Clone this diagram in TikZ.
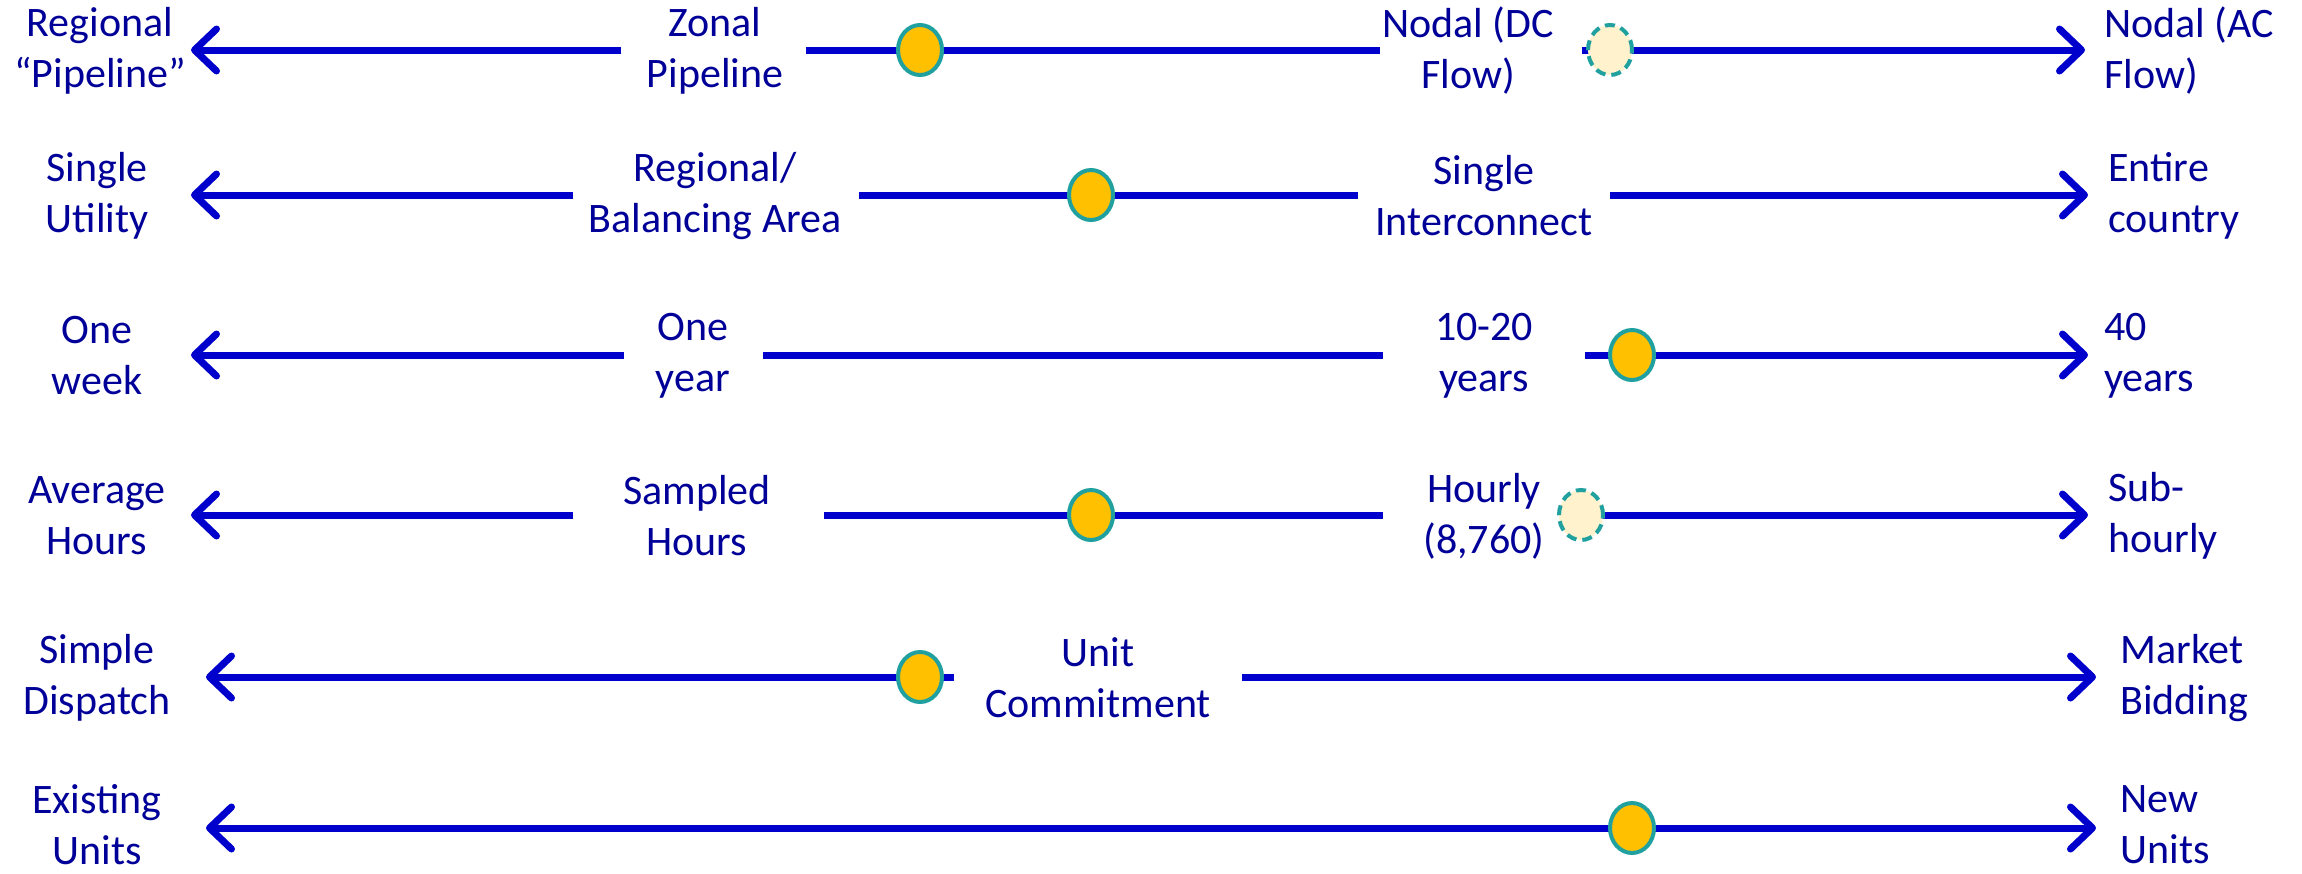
\documentclass[tikz,border=0pt]{standalone}
\usepackage{fontspec}
\setmainfont{Carlito}
\usetikzlibrary{arrows.meta,shapes.geometric}
\definecolor{linecol}{HTML}{0000CC}
\definecolor{txtcol}{HTML}{000099}
\definecolor{ringcol}{HTML}{21A0A0}
\definecolor{dotfill}{HTML}{FFC000}
\definecolor{ghostfill}{HTML}{FFF2CC}
\tikzset{
  lbl/.style={text=txtcol,font=\fontsize{21}{25.5}\selectfont,align=center,inner sep=0pt},
  rlbl/.style={lbl,align=left,anchor=west},
  bar/.style={draw=linecol,line width=3.5pt},
  tip/.tip={Straight Barb[length=11pt,width=21pt,round]},
  arr/.style={bar,-tip},
  darr/.style={bar,tip-tip},
  dot/.style={ellipse,draw=ringcol,line width=2pt,fill=dotfill,minimum width=22pt,minimum height=25pt,inner sep=0pt},
  ghost/.style={dot,fill=ghostfill,dash pattern=on 5pt off 3pt}
}
\begin{document}
\begin{tikzpicture}[x=0.5pt,y=-0.5pt]
\useasboundingbox (0,0) rectangle (2302,873);
% ---------- Row 1 ----------
\node[lbl] (l1) at (100,51) {Regional\\“Pipeline”};
\node[lbl] (m1) at (715,51) {Zonal\\Pipeline};
\node[lbl] (n1) at (1468,51) {Nodal (DC\\Flow)};
\node[rlbl] (r1) at (2104,51) {Nodal (AC\\Flow)};
\coordinate (a1s) at (621,50); \coordinate (a1e) at (191,50);
\coordinate (b1s) at (806,50); \coordinate (b1e) at (1380,50);
\coordinate (c1s) at (1582,50); \coordinate (c1e) at (2085,50);
\draw[arr] (a1s) -- (a1e);
\draw[bar] (b1s) -- (b1e);
\draw[arr] (c1s) -- (c1e);
\node[dot] (d1) at (920,50) {};
\node[ghost] (g1) at (1610,50) {};
% ---------- Row 2 ----------
\node[lbl] (l2) at (97,196) {Single\\Utility};
\node[lbl] (m2) at (715,196) {Regional/\\Balancing Area};
\node[lbl] (n2) at (1484,196) {Single\\Interconnect};
\node[rlbl] (r2) at (2108,196) {Entire\\country};
\coordinate (a2s) at (573,195); \coordinate (a2e) at (191,195);
\coordinate (b2s) at (859,195); \coordinate (b2e) at (1358,195);
\coordinate (c2s) at (1610,195); \coordinate (c2e) at (2088,195);
\draw[arr] (a2s) -- (a2e);
\draw[bar] (b2s) -- (b2e);
\draw[arr] (c2s) -- (c2e);
\node[dot] (d2) at (1091,195) {};
% ---------- Row 3 ----------
\node[lbl] (l3) at (97,356) {One\\week};
\node[lbl] (m3) at (693,356) {One\\year};
\node[lbl] (n3) at (1484,356) {10-20\\years};
\node[rlbl] (r3) at (2104,356) {40\\years};
\coordinate (a3s) at (624,355); \coordinate (a3e) at (191,355);
\coordinate (b3s) at (763,355); \coordinate (b3e) at (1383,355);
\coordinate (c3s) at (1585,355); \coordinate (c3e) at (2088,355);
\draw[arr] (a3s) -- (a3e);
\draw[bar] (b3s) -- (b3e);
\draw[arr] (c3s) -- (c3e);
\node[dot] (d3) at (1632,355) {};
% ---------- Row 4 ----------
\node[lbl] (l4) at (97,516) {Average\\Hours};
\node[lbl] (m4) at (697,516) {Sampled\\Hours};
\node[lbl] (n4) at (1484,516) {Hourly\\(8,760)};
\node[rlbl] (r4) at (2108,516) {Sub-\\hourly};
\coordinate (a4s) at (573,515); \coordinate (a4e) at (191,515);
\coordinate (b4s) at (824,515); \coordinate (b4e) at (1383,515);
\coordinate (c4s) at (1581,515); \coordinate (c4e) at (2088,515);
\draw[arr] (a4s) -- (a4e);
\draw[bar] (b4s) -- (b4e);
\draw[arr] (c4s) -- (c4e);
\node[dot] (d4) at (1091,515) {};
\node[ghost] (g4) at (1581,515) {};
% ---------- Row 5 ----------
\node[lbl] (l5) at (97,678) {Simple\\Dispatch};
\node[lbl] (m5) at (1098,678) {Unit\\Commitment};
\node[rlbl] (r5) at (2120,678) {Market\\Bidding};
\coordinate (a5s) at (954,677); \coordinate (a5e) at (206,677);
\coordinate (b5s) at (1242,677); \coordinate (b5e) at (2096,677);
\draw[arr] (a5s) -- (a5e);
\draw[arr] (b5s) -- (b5e);
\node[dot] (d5) at (920,677) {};
% ---------- Row 6 ----------
\node[lbl] (l6) at (97,825) {Existing\\Units};
\node[rlbl] (r6) at (2120,825) {New\\Units};
\coordinate (a6s) at (206,828); \coordinate (a6e) at (2096,828);
\draw[darr] (a6s) -- (a6e);
\node[dot] (d6) at (1632,828) {};
\end{tikzpicture}
\end{document}
